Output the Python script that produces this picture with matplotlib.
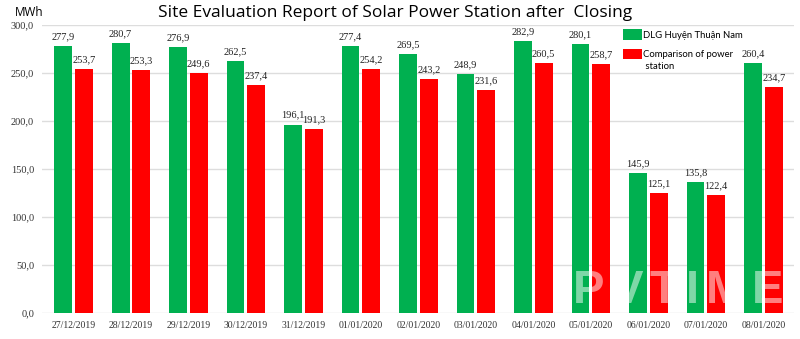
import numpy as np
import matplotlib.pyplot as plt

# -------------------- DATA --------------------
dates = ["27/12/2019", "28/12/2019", "29/12/2019", "30/12/2019", "31/12/2019",
         "01/01/2020", "02/01/2020", "03/01/2020", "04/01/2020", "05/01/2020",
         "06/01/2020", "07/01/2020", "08/01/2020"]
dlg = [277.9, 280.7, 276.9, 262.5, 196.1, 277.4, 269.5, 248.9, 282.9, 280.1, 145.9, 135.8, 260.4]
station = [253.7, 253.3, 249.6, 237.4, 191.3, 254.2, 243.2, 231.6, 260.5, 258.7, 125.1, 122.4, 234.7]
yticks = [0, 50, 100, 150, 200, 250, 300]

GREEN = "#00B050"
RED = "#FF0000"


def comma(v):
    return f"{v:.1f}".replace(".", ",")


# -------------------- FIGURE --------------------
fig = plt.figure(figsize=(8, 3.39), dpi=100)
ax = fig.add_axes([0.053, 0.077, 0.94, 0.85])

x = np.arange(len(dates))
w = 0.31
gap = 0.05
xg = x - w / 2 - gap / 2
xr = x + w / 2 + gap / 2
ax.bar(xg, dlg, w, color=GREEN, label="DLG Huyện Thuận Nam", zorder=3)
ax.bar(xr, station, w, color=RED, label="Comparison of power", zorder=3)

# value labels above each bar
for xi, v in zip(xg, dlg):
    ax.text(xi, v + 5, comma(v), ha="center", va="bottom",
            fontsize=7.5, family="Liberation Serif", color="#222222")
for xi, v in zip(xr, station):
    ax.text(xi, v + 5, comma(v), ha="center", va="bottom",
            fontsize=7.5, family="Liberation Serif", color="#222222")

ax.set_xlim(-0.54, len(dates) - 0.46)
ax.set_ylim(0, 300)
ax.set_yticks(yticks)
ax.set_yticklabels([comma(v) for v in yticks], family="Liberation Serif", fontsize=7.5)
ax.set_xticks(x)
ax.set_xticklabels(dates, family="Liberation Serif", fontsize=7)
ax.tick_params(length=0, pad=6, colors="#333333")
ax.grid(axis="y", color="#dddddd", linewidth=1, zorder=0)
for s in ax.spines.values():
    s.set_visible(False)

leg = ax.legend(loc="upper left", bbox_to_anchor=(0.772, 0.985), frameon=False,
                borderpad=0, borderaxespad=0, handlelength=2.0, handleheight=1.35,
                handletextpad=0.15, labelspacing=0.95,
                prop={"family": "Lato", "size": 6.8})

fig.text(0.494, 0.962, "Site Evaluation Report of Solar Power Station after  Closing",
         ha="center", va="center", fontsize=12.5, family="Open Sans")
fig.text(0.018, 0.962, "MWh", ha="left", va="center", fontsize=8.5, family="Open Sans")

# second line of the red legend label, under its first line
fig.canvas.draw()
r = fig.canvas.get_renderer()
bb = leg.get_texts()[1].get_window_extent(r)
fig.text(bb.x0 / fig.bbox.width, (bb.y0 - 3) / fig.bbox.height, " station",
         ha="left", va="top", fontsize=6.8, family="Lato")

# watermark over the bottom right bars
px = 573
for ch in "PVTIME":
    t = fig.text(px / fig.bbox.width, 0.077, ch, ha="left", va="bottom", fontsize=34,
                 weight="bold", family="Liberation Sans", color="white", alpha=0.5)
    px = t.get_window_extent(r).x1 + 7

fig.savefig("out.png", dpi=100)
